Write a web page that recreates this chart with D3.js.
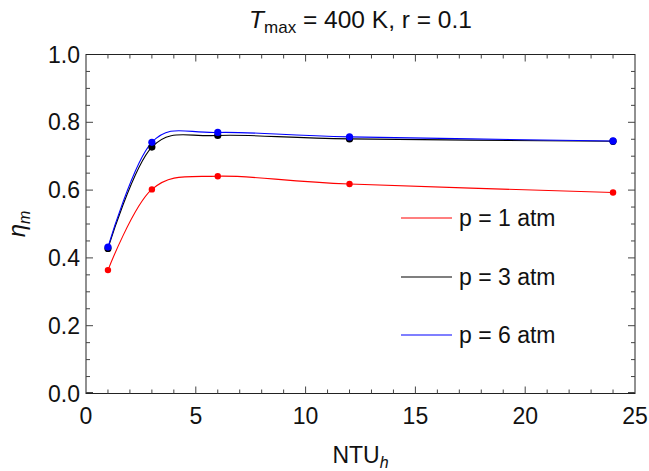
<!DOCTYPE html>
<html>
<head>
<meta charset="utf-8">
<script src="https://cdn.jsdelivr.net/npm/d3@7"></script>
<style>
    body { margin: 0; background: #fff; }
    svg { display: block; font-family: 'Liberation Sans', Arial, sans-serif; }
</style>
</head>
<body>
<div id="chart"></div>
<script>
// NTU_h values where the model was evaluated
const ntu = [1, 3, 6, 12, 24];

// eta_m for each pressure
const eta1atm = [0.364, 0.602, 0.641, 0.618, 0.593];
const eta3atm = [0.428, 0.727, 0.761, 0.751, 0.744];
const eta6atm = [0.432, 0.741, 0.770, 0.757, 0.745];

const seriesLabels = ['p = 1 atm', 'p = 3 atm', 'p = 6 atm'];
const seriesColors = ['#ff0000', '#000000', '#0000ff'];
const seriesValues = [eta1atm, eta3atm, eta6atm];

const xTicks = [0, 5, 10, 15, 20, 25];
const yTicks = [0, 0.2, 0.4, 0.6, 0.8, 1.0];

const width = 649, height = 471;
const margin = { top: 54.5, right: 14, bottom: 77.5, left: 86 };
const fontSize = 23;
const subSize = 16;

const svg = d3.select('#chart')
    .append('svg')
    .attr('width', width)
    .attr('height', height);

const x = d3.scaleLinear().domain([0, 25]).range([margin.left, width - margin.right]);
const y = d3.scaleLinear().domain([0, 1]).range([height - margin.bottom, margin.top]);

// Frame
svg.append('rect')
    .attr('x', x(0)).attr('y', y(1))
    .attr('width', x(25) - x(0)).attr('height', y(0) - y(1))
    .attr('fill', 'none')
    .attr('stroke', '#222')
    .attr('stroke-width', 1);

// Ticks on all four sides (major + minor), pointing inward
const tickG = svg.append('g').attr('stroke', '#444').attr('stroke-width', 1);
const xMinor = d3.range(0, 26, 1);
const yMinor = d3.range(0, 21).map(i => i * 0.05);

xMinor.forEach(v => {
    const len = v % 5 === 0 ? 7 : 4;
    if (v === 0 || v === 25) return;
    tickG.append('line').attr('x1', x(v)).attr('x2', x(v)).attr('y1', y(0)).attr('y2', y(0) - len);
    tickG.append('line').attr('x1', x(v)).attr('x2', x(v)).attr('y1', y(1)).attr('y2', y(1) + len);
});
yMinor.forEach((v, i) => {
    const len = i % 4 === 0 ? 7 : 4;
    if (i === 0 || i === 20) return;
    tickG.append('line').attr('y1', y(v)).attr('y2', y(v)).attr('x1', x(0)).attr('x2', x(0) + len);
    tickG.append('line').attr('y1', y(v)).attr('y2', y(v)).attr('x1', x(25)).attr('x2', x(25) - len);
});
// little marks at the corners like the original
tickG.append('line').attr('x1', x(0)).attr('x2', x(0) + 7).attr('y1', y(0) - 1).attr('y2', y(0) - 1);
tickG.append('line').attr('x1', x(25)).attr('x2', x(25) - 7).attr('y1', y(0) - 1).attr('y2', y(0) - 1);

// Tick labels
svg.append('g')
    .selectAll('text')
    .data(xTicks)
    .join('text')
    .attr('x', d => x(d))
    .attr('y', y(0) + 30)
    .attr('text-anchor', 'middle')
    .attr('font-size', fontSize)
    .attr('fill', '#111')
    .text(d => d);

svg.append('g')
    .selectAll('text')
    .data(yTicks)
    .join('text')
    .attr('x', x(0) - 6)
    .attr('y', d => y(d))
    .attr('dy', '0.35em')
    .attr('text-anchor', 'end')
    .attr('font-size', fontSize)
    .attr('fill', '#111')
    .text(d => d.toFixed(1));

// Title
const title = svg.append('text')
    .attr('x', (x(0) + x(25)) / 2)
    .attr('y', 28)
    .attr('text-anchor', 'middle')
    .attr('font-size', 24.5)
    .attr('fill', '#111');
title.append('tspan').attr('font-style', 'italic').text('T');
title.append('tspan').attr('font-size', 17).attr('dy', 5).text('max');
title.append('tspan').attr('dy', -5).text(' = 400 K, r = 0.1');

// Axis labels
const xLab = svg.append('text')
    .attr('x', (x(0) + x(25)) / 2)
    .attr('y', 463)
    .attr('text-anchor', 'middle')
    .attr('font-size', fontSize)
    .attr('fill', '#111');
xLab.append('tspan').text('NTU');
xLab.append('tspan').attr('font-size', subSize).attr('font-style', 'italic').attr('dy', 5).text('h');

const yLab = svg.append('text')
    .attr('transform', `translate(25, ${(y(0) + y(1)) / 2}) rotate(-90)`)
    .attr('text-anchor', 'middle')
    .attr('font-size', fontSize + 1)
    .attr('fill', '#111');
yLab.append('tspan').attr('font-style', 'italic').text('η');
yLab.append('tspan').attr('font-size', subSize).attr('font-style', 'italic').attr('dy', 5).text('m');

// Curves
const line = d3.line()
    .x(d => x(d[0]))
    .y(d => y(d[1]))
    .curve(d3.curveCardinal.tension(0));

seriesValues.forEach((vals, k) => {
    const pts = ntu.map((n, i) => [n, vals[i]]);
    svg.append('path')
        .datum(pts)
        .attr('d', line)
        .attr('fill', 'none')
        .attr('stroke', seriesColors[k])
        .attr('stroke-width', 1.1);
});

seriesValues.forEach((vals, k) => {
    svg.append('g')
        .selectAll('circle')
        .data(ntu.map((n, i) => [n, vals[i]]))
        .join('circle')
        .attr('cx', d => x(d[0]))
        .attr('cy', d => y(d[1]))
        .attr('r', k === 0 ? 3.2 : 3.6)
        .attr('fill', seriesColors[k]);
});

// Legend
const legendY = [218, 277, 335];
const legend = svg.append('g');
seriesLabels.forEach((lab, k) => {
    legend.append('line')
        .attr('x1', 401).attr('x2', 452)
        .attr('y1', legendY[k]).attr('y2', legendY[k])
        .attr('stroke', seriesColors[k])
        .attr('stroke-width', 1.1);
    legend.append('text')
        .attr('x', 459)
        .attr('y', legendY[k])
        .attr('dy', '0.35em')
        .attr('font-size', fontSize)
        .attr('fill', '#111')
        .text(lab);
});
</script>
</body>
</html>
